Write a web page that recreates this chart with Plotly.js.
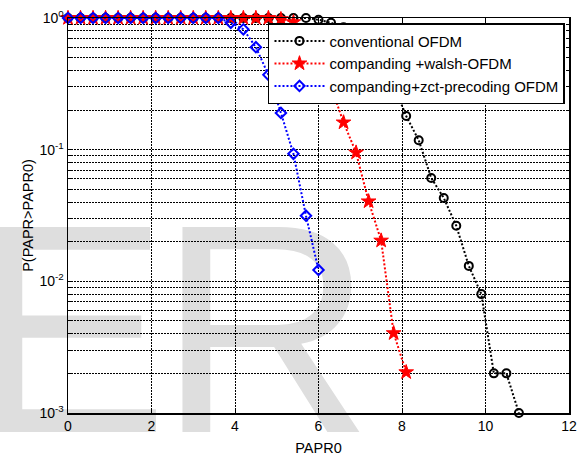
<!DOCTYPE html>
<html>
<head>
<meta charset="utf-8">
<script src="https://cdn.plot.ly/plotly-3.0.1.min.js"></script>
<style>
  html, body { margin: 0; padding: 0; background: #ffffff; }
  #wrap { position: relative; width: 585px; height: 456px; overflow: hidden; background: #ffffff; }
  #wm { position: absolute; left: 0; top: 0; z-index: 0; }
  #chart { position: absolute; left: 0; top: 0; width: 585px; height: 456px; z-index: 1; }
</style>
</head>
<body>
<div id="wrap">
  <svg id="wm" width="585" height="456" xmlns="http://www.w3.org/2000/svg">
    <text x="-30" y="432" font-family="Liberation Sans, Arial, sans-serif" font-size="298" fill="#dedede">E</text>
    <text x="158" y="432" font-family="Liberation Sans, Arial, sans-serif" font-size="298" fill="#dedede">R</text>
  </svg>
  <div id="chart"></div>
</div>
<script>
// ---- data ----
const seriesNames = ["conventional OFDM", "companding +walsh-OFDM", "companding+zct-precoding OFDM"];

const convX = [0, 0.3, 0.6, 0.9, 1.2, 1.5, 1.8, 2.1, 2.4, 2.7, 3.0, 3.3, 3.6, 3.9, 4.2, 4.5, 4.8, 5.1, 5.4, 5.7, 6.0, 6.3, 6.6, 6.9, 7.2, 7.5, 7.8, 8.1, 8.4, 8.7, 9.0, 9.3, 9.6, 9.9, 10.2, 10.5, 10.8];
const convY = [1, 1, 1, 1, 1, 1, 1, 1, 1, 1, 1, 1, 1, 1, 1, 1, 1, 1, 1, 1, 0.97, 0.92, 0.85, 0.75, 0.62, 0.47, 0.31, 0.18, 0.118, 0.061, 0.043, 0.0264, 0.0131, 0.008, 0.002, 0.002, 0.001];

const walshX = [0, 0.3, 0.6, 0.9, 1.2, 1.5, 1.8, 2.1, 2.4, 2.7, 3.0, 3.3, 3.6, 3.9, 4.2, 4.5, 4.8, 5.1, 5.4, 5.7, 6.0, 6.3, 6.6, 6.9, 7.2, 7.5, 7.8, 8.1];
const walshY = [1, 1, 1, 1, 1, 1, 1, 1, 1, 1, 1, 1, 1, 1, 1, 1, 1, 0.98, 0.93, 0.8, 0.58, 0.30, 0.161, 0.095, 0.0405, 0.0204, 0.00404, 0.00204];

const zctX = [0, 0.3, 0.6, 0.9, 1.2, 1.5, 1.8, 2.1, 2.4, 2.7, 3.0, 3.3, 3.6, 3.9, 4.2, 4.5, 4.8, 5.1, 5.4, 5.7, 6.0];
const zctY = [1, 1, 1, 1, 1, 1, 1, 1, 1, 1, 1, 1, 1, 0.92, 0.82, 0.60, 0.37, 0.19, 0.093, 0.0315, 0.0122];

const xTickVals = [0, 2, 4, 6, 8, 10, 12];
const yTickVals = [1, 0.1, 0.01, 0.001];
const yTickText = ["10<sup>0</sup>", "10<sup>-1</sup>", "10<sup>-2</sup>", "10<sup>-3</sup>"];
const xTitle = "PAPR0";
const yTitle = "P(PAPR>PAPR0)";

// minor log ticks 2..9 within each decade
const yMinor = [];
[0.001, 0.01, 0.1].forEach(function (d) { for (let k = 2; k <= 9; k++) yMinor.push(k * d); });

const FONT = "Liberation Sans, Arial, sans-serif";
const lineDash = "2px,2px";

const traces = [
  {
    x: convX, y: convY, name: seriesNames[0], type: "scatter", mode: "lines+markers",
    cliponaxis: false,
    line: { color: "#000000", width: 2, dash: lineDash },
    marker: { symbol: "circle-open", size: 8, color: "#000000", line: { width: 2, color: "#000000" } }
  },
  {
    x: walshX, y: walshY, name: seriesNames[1], type: "scatter", mode: "lines+markers",
    cliponaxis: false,
    line: { color: "#ff0000", width: 2, dash: lineDash },
    marker: { symbol: "star", size: 11, color: "#ff0000", line: { width: 1, color: "#ff0000" } }
  },
  {
    x: zctX, y: zctY, name: seriesNames[2], type: "scatter", mode: "lines+markers",
    cliponaxis: false,
    line: { color: "#0000ff", width: 2, dash: lineDash },
    marker: { symbol: "diamond-open", size: 8, color: "#0000ff", line: { width: 2, color: "#0000ff" } }
  }
];

const gridDash = "2px,1px";

const layout = {
  width: 585, height: 456,
  margin: { l: 68, r: 16, t: 18, b: 43, pad: 0 },
  paper_bgcolor: "rgba(0,0,0,0)",
  plot_bgcolor: "rgba(0,0,0,0)",
  font: { family: FONT, size: 14, color: "#000000" },
  showlegend: true,
  xaxis: {
    range: [0, 12], tickmode: "array", tickvals: xTickVals,
    ticks: "inside", ticklen: 5, tickcolor: "#000", mirror: "ticks",
    showline: true, linecolor: "#000", linewidth: 1.5,
    showgrid: true, gridcolor: "#000", gridwidth: 1, griddash: gridDash,
    zeroline: false,
    tickfont: { family: FONT, size: 14, color: "#000" },
    title: { text: xTitle, font: { family: FONT, size: 14.5, color: "#000" }, standoff: 11 }
  },
  yaxis: {
    type: "log", range: [-3, 0], tickmode: "array", tickvals: yTickVals, ticktext: yTickText,
    ticks: "inside", ticklen: 5, tickcolor: "#000", mirror: "ticks",
    showline: true, linecolor: "#000", linewidth: 1.5,
    showgrid: true, gridcolor: "#000", gridwidth: 1, griddash: gridDash,
    zeroline: false,
    minor: { tickmode: "array", tickvals: yMinor, ticks: "inside", ticklen: 3, tickcolor: "#000",
             showgrid: true, gridcolor: "#000", gridwidth: 1, griddash: gridDash },
    tickfont: { family: FONT, size: 14, color: "#000" },
    title: { text: yTitle, font: { family: FONT, size: 14.5, color: "#000" }, standoff: 2 }
  },
  legend: {
    x: 0.992, xanchor: "right", y: 0.987, yanchor: "top",
    bgcolor: "#ffffff", bordercolor: "#000000", borderwidth: 1.5,
    font: { family: FONT, size: 15, color: "#000" },
    itemwidth: 50, tracegroupgap: 0
  }
};

Plotly.newPlot("chart", traces, layout, { displayModeBar: false, staticPlot: true });
</script>
</body>
</html>
